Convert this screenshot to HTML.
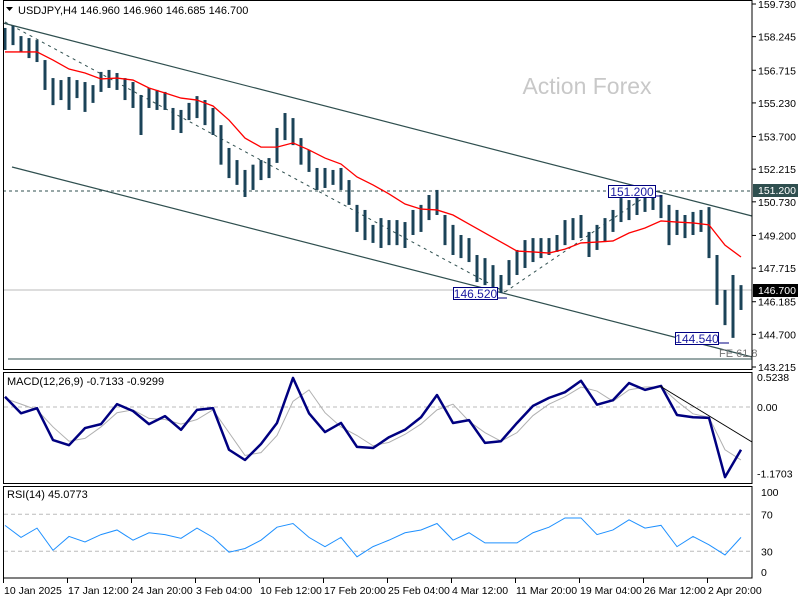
<!DOCTYPE html>
<html><head><meta charset="utf-8">
<style>
html,body{margin:0;padding:0;background:#fff;}
svg{display:block;font-family:"Liberation Sans",Tahoma,sans-serif;}
</style></head>
<body>
<svg id="chart" width="800" height="600" viewBox="0 0 800 600">
  <rect x="0" y="0" width="800" height="600" fill="#fff"/>
  <text x="385" y="94" font-size="23" fill="#c8c8c8" text-anchor="middle" transform="translate(202,0)">Action Forex</text>
  <g id="main"></g>
  <g id="macd"></g>
  <g id="rsi"></g>
  <g id="axes"></g>
</svg>
<script>
// ---- data ----
const barHigh = [158.64,158.73,158.27,158.18,158.09,157.18,156.36,156.27,156.41,156.27,156.18,156.04,156.64,156.73,156.59,156.36,156.18,155.59,155.91,155.82,155.73,155.00,154.91,155.23,155.54,155.36,155.00,154.22,153.18,152.63,152.18,152.42,152.63,152.72,154.09,154.77,154.54,153.63,153.09,152.27,152.27,152.18,152.27,151.72,150.59,150.36,149.68,149.99,149.90,149.90,149.81,150.36,150.59,151.04,151.27,150.13,149.68,149.22,149.08,148.31,148.17,147.85,147.40,148.08,148.54,148.99,149.08,149.08,149.08,149.22,149.90,149.99,150.13,149.36,149.68,149.99,150.36,150.90,150.81,151.04,151.18,151.27,151.04,150.59,150.36,150.13,150.27,150.36,150.49,148.31,146.72,147.40,146.94];
const barLow = [157.64,157.86,157.55,157.27,157.09,155.82,155.13,155.36,154.91,155.45,154.82,155.23,155.73,155.91,155.82,155.36,155.00,153.77,155.00,154.91,154.91,154.00,153.86,154.45,154.54,154.22,153.77,152.42,151.81,151.50,150.95,151.27,151.72,151.81,152.50,153.54,153.31,152.42,152.09,151.27,151.36,151.50,151.27,150.59,149.36,148.99,148.86,148.63,148.76,148.76,148.63,149.22,149.36,149.90,150.13,148.76,148.31,148.17,147.99,147.08,146.94,146.72,146.58,146.94,147.40,147.72,147.99,148.17,148.31,148.45,148.76,148.99,149.08,148.22,148.54,148.90,149.36,149.81,149.90,150.13,150.27,150.36,149.99,148.76,149.22,149.08,149.22,149.36,148.17,146.04,145.12,144.54,145.81];
const maValues = [157.55,157.55,157.55,157.18,156.77,156.59,156.32,156.36,156.27,155.91,155.68,155.45,155.36,155.09,154.45,153.63,153.22,153.22,153.41,153.09,152.72,152.45,151.86,151.50,151.09,150.63,150.40,150.36,150.13,149.72,149.31,148.90,148.49,148.45,148.40,148.58,148.86,148.90,148.95,149.31,149.54,149.86,149.81,149.77,149.68,148.76,148.22];
const macdMain = [0.18,-0.11,-0.02,-0.58,-0.67,-0.37,-0.30,0.05,-0.07,-0.30,-0.16,-0.40,-0.05,-0.02,-0.75,-0.93,-0.65,-0.28,0.51,-0.11,-0.44,-0.28,-0.70,-0.72,-0.53,-0.40,-0.18,0.21,-0.28,-0.23,-0.63,-0.60,-0.28,0.02,0.16,0.26,0.46,0.04,0.12,0.42,0.30,0.37,-0.14,-0.18,-0.19,-1.23,-0.75];
const macdSignal = [0.15,0.05,-0.05,-0.35,-0.60,-0.55,-0.35,-0.10,-0.05,-0.20,-0.22,-0.30,-0.22,-0.05,-0.45,-0.85,-0.80,-0.50,0.10,0.30,-0.10,-0.35,-0.50,-0.68,-0.62,-0.48,-0.30,-0.05,0.05,-0.25,-0.45,-0.60,-0.45,-0.15,0.05,0.18,0.35,0.28,0.10,0.30,0.35,0.35,0.10,-0.12,-0.18,-0.75,-0.93];
const rsiValues = [58,45,55,31,46,40,48,53,42,50,48,44,55,45,29,33,42,56,60,45,35,45,24,35,42,50,53,60,42,50,39,39,39,50,56,66,66,48,53,64,55,58,35,46,37,26,45];
const priceTicks = ["159.730","158.245","156.715","155.230","153.700","152.215","150.730","149.200","147.715","146.185","144.700","143.215"];
const timeLabels = ["10 Jan 2025","17 Jan 12:00","24 Jan 20:00","3 Feb 04:00","10 Feb 12:00","17 Feb 20:00","25 Feb 04:00","4 Mar 12:00","11 Mar 20:00","19 Mar 04:00","26 Mar 12:00","2 Apr 20:00"];
const macdTicks = [0.5238, 0.00, -1.1703];
const rsiTicks = [100, 70, 30, 0];

// ---- scales ----
const NS = "http://www.w3.org/2000/svg";
const yP = p => 4 + (159.73 - p) * 21.98;
const xBar = i => 5 + 8 * i;
const xS = k => 5 + 16 * k;
const yM = v => 407 - v * 57;
const yR = v => 579 - v * 0.925;
function mk(tag, attrs, parent) {
  const e = document.createElementNS(NS, tag);
  for (const k in attrs) e.setAttribute(k, attrs[k]);
  parent.appendChild(e);
  return e;
}
const main = document.getElementById('main');
const macdG = document.getElementById('macd');
const rsiG = document.getElementById('rsi');
const axes = document.getElementById('axes');

// frames
let f;
f = mk('rect', {x:3.5,y:0.5,width:748.5,height:369,fill:'none',stroke:'#000'}, axes);


f = mk('rect', {x:3.5,y:372.5,width:748.5,height:111,fill:'none',stroke:'#000'}, axes);


f = mk('rect', {x:3.5,y:486.5,width:748.5,height:91.5,fill:'none',stroke:'#000'}, axes);



// header
let t = mk('text', {x:18,y:14,'font-size':11,fill:'#000'}, axes);
t.textContent = 'USDJPY,H4  146.960 146.960 146.685 146.700';


let tri = mk('path', {d:'M6 7 L13 7 L9.5 11 Z',fill:'#000'}, axes);



// annotations
let l;
l = mk('line', {x1:3,y1:191,x2:752,y2:191,stroke:'#2f4f4f','stroke-dasharray':'3,3'}, main);


l = mk('line', {x1:3,y1:290,x2:752,y2:290,stroke:'#bbb'}, main);


l = mk('line', {x1:8,y1:359,x2:752,y2:359,stroke:'#2f4f4f'}, main);


l = mk('line', {x1:3,y1:23,x2:752,y2:216,stroke:'#2f4f4f','stroke-width':1.2}, main);


l = mk('line', {x1:12,y1:167,x2:752,y2:357,stroke:'#2f4f4f','stroke-width':1.2}, main);


l = mk('line', {x1:5,y1:22,x2:505,y2:292,stroke:'#2f4f4f','stroke-dasharray':'3,4'}, main);


l = mk('line', {x1:505,y1:292,x2:655,y2:190,stroke:'#2f4f4f','stroke-dasharray':'3,4'}, main);



// bars
barHigh.forEach((h, i) => {
  const b = mk('line', {x1:xBar(i),x2:xBar(i),y1:yP(h),y2:yP(barLow[i]),stroke:'#1b4358','stroke-width':3}, main);
  
  
});
// MA
let pl = mk('polyline', {points:maValues.map((v,k)=>xS(k)+','+yP(v)).join(' '),fill:'none',stroke:'#f00','stroke-width':1.3}, main);



// labels boxes
function box(x, y, w, label, name, lx) {
  const g = mk('g', {}, main);
  
  
  mk('line', {x1:x+w,y1:y+11,x2:lx,y2:y+11,stroke:'#000080'}, g);
  mk('rect', {x:x+0.5,y:y+0.5,width:w,height:12,fill:'#fff',stroke:'#000080'}, g);
  const tt = mk('text', {x:x+w/2+0.5,y:y+11,'font-size':12,fill:'#1a1aa0','text-anchor':'middle'}, g);
  tt.textContent = label;
}
box(608,185,47,'151.200','label-151-200',662);
box(453,287,44,'146.520','label-146-520',507);
box(675,332,43,'144.540','label-144-540',729);
t = mk('text', {x:719,y:357,'font-size':11,fill:'#777'}, main);
t.textContent = 'FE 61.8';



// price axis
priceTicks.forEach(p => {
  const y = yP(parseFloat(p));
  mk('line', {x1:752,x2:756,y1:y,y2:y,stroke:'#000'}, axes);
  const tx = mk('text', {x:758,y:y+4,'font-size':10.5,fill:'#000'}, axes);
  tx.textContent = p;
  
  
});
let r = mk('rect', {x:753,y:184,width:45,height:13,fill:'#2f4f4f'}, axes);


t = mk('text', {x:758,y:194,'font-size':10.5,fill:'#fff'}, axes); t.textContent = '151.200';
r = mk('rect', {x:753,y:284,width:45,height:13,fill:'#000'}, axes);


t = mk('text', {x:758,y:294,'font-size':10.5,fill:'#fff'}, axes); t.textContent = '146.700';

// MACD
l = mk('line', {x1:4,x2:752,y1:yM(0),y2:yM(0),stroke:'#bbb','stroke-dasharray':'4,3'}, macdG);


pl = mk('polyline', {points:macdSignal.map((v,k)=>xS(k)+','+yM(v)).join(' '),fill:'none',stroke:'#b0b0b0','stroke-width':1}, macdG);


pl = mk('polyline', {points:macdMain.map((v,k)=>xS(k)+','+yM(v)).join(' '),fill:'none',stroke:'#000080','stroke-width':2.5,'stroke-linejoin':'round'}, macdG);


l = mk('line', {x1:660,x2:752,y1:386,y2:442,stroke:'#000'}, macdG);


t = mk('text', {x:7,y:385,'font-size':11,fill:'#000'}, macdG);
t.textContent = 'MACD(12,26,9) -0.7133 -0.9299';


macdTicks.forEach(v => {
  const tx = mk('text', {x:757,y:yM(v)+4,'font-size':10.5,fill:'#000'}, axes);
  tx.textContent = v === 0 ? '0.00' : v.toFixed(4);
  
  
});

// RSI
[70,30].forEach(v => {
  const ln = mk('line', {x1:4,x2:752,y1:yR(v),y2:yR(v),stroke:'#bbb','stroke-dasharray':'4,3'}, rsiG);
  
  
});
pl = mk('polyline', {points:rsiValues.map((v,k)=>xS(k)+','+yR(v)).join(' '),fill:'none',stroke:'#1e90ff','stroke-width':1}, rsiG);


t = mk('text', {x:7,y:498,'font-size':11,fill:'#000'}, rsiG);
t.textContent = 'RSI(14) 45.0773';


rsiTicks.forEach(v => {
  const tx = mk('text', {x:761,y:Math.min(Math.max(yR(v),492),572)+4,'font-size':10.5,fill:'#000'}, axes);
  tx.textContent = v;
  
  
});

// time axis
timeLabels.forEach((s, i) => {
  const x = 3 + 64 * i;
  mk('line', {x1:x+0.5,x2:x+0.5,y1:578,y2:583,stroke:'#000'}, axes);
  const tx = mk('text', {x:x+1,y:594,'font-size':10.5,fill:'#000'}, axes);
  tx.textContent = s;
  
  
});
</script>
</body></html>
